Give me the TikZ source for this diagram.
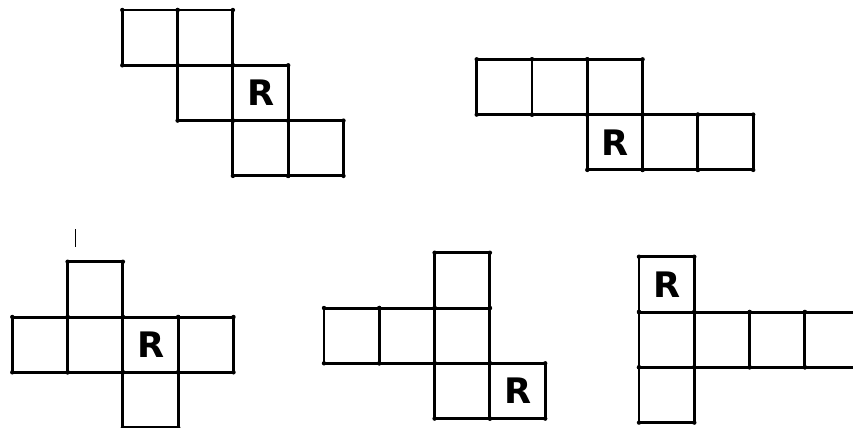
\documentclass[tikz,border=0pt]{standalone}
\usepackage{fontspec}
\newfontfamily\rfont{DejaVu Sans}
\usetikzlibrary{backgrounds}
\tikzset{
  cel/.style = {draw=black, line width=1.7pt, line join=round},
  crn/.style = {fill=black},
  lbl/.style = {font=\rfont\bfseries\fontsize{20}{20}\selectfont,
    text=black, inner sep=0pt},
  mrk/.style = {draw=black, line width=0.9pt}
}

\begin{document}
\begin{tikzpicture}[x=0.02cm, y=-0.02cm]
  \useasboundingbox[fill=white] (0,0) rectangle (853,427);
  \def\side{55.3}
  \foreach \ox/\oy/\cl in {
      122.3/10/{0/0,1/0,1/1,2/1,2/2,3/2},
      476.7/59.3/{0/0,1/0,2/0,2/1,3/1,4/1},
      12.3/261.7/{1/0,0/1,1/1,2/1,3/1,2/2},
      324/252.7/{2/0,0/1,1/1,2/1,2/2,3/2},
      639/256.7/{0/0,0/1,1/1,2/1,3/1,0/2}} {
    \foreach \c/\r in \cl {
      \draw[cel] (\ox+\c*\side, \oy+\r*\side) rectangle ++(\side,\side);
      \foreach \dx/\dy in {0/0,1/0,0/1,1/1}
        \fill[crn] (\ox+\c*\side+\dx*\side, \oy+\r*\side+\dy*\side) circle[radius=2.2];
    }
  }
  \node[lbl] (r1) at (122.3+2.5*\side, 10+1.5*\side) {R};
  \node[lbl] (r2) at (476.7+2.5*\side, 59.3+1.5*\side) {R};
  \node[lbl] (r3) at (12.3+2.5*\side, 261.7+1.5*\side) {R};
  \node[lbl] (r4) at (324+3.5*\side, 252.7+2.5*\side) {R};
  \node[lbl] (r5) at (639+0.5*\side, 256.7+0.5*\side) {R};
  \draw[mrk] (75.7,229) -- (75.7,247);
\end{tikzpicture}
\end{document}
